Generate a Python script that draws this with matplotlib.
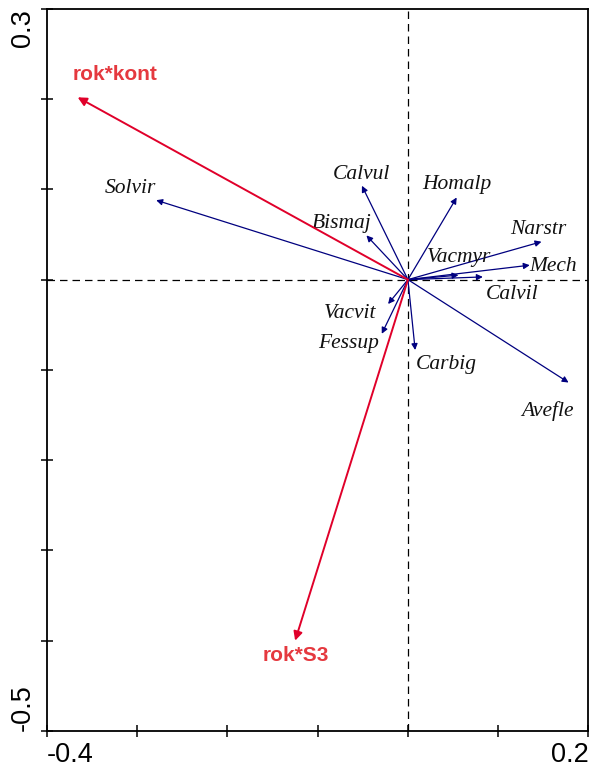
import numpy as np
import matplotlib.pyplot as plt

# species arrows (axis 1, axis 2)
species = ["Solvir", "Calvul", "Homalp", "Bismaj", "Narstr", "Mech", "Vacmyr",
           "Calvil", "Vacvit", "Fessup", "Carbig", "Avefle"]
sp_x = [-0.279, -0.051, 0.054, -0.046, 0.148, 0.135, 0.056, 0.083, -0.022, -0.029, 0.008, 0.178]
sp_y = [0.088, 0.104, 0.091, 0.049, 0.042, 0.016, 0.005, 0.003, -0.027, -0.060, -0.078, -0.114]
# label offsets from arrow tips
sp_dx = [-0.028, -0.001, 0.000, -0.027, -0.004, 0.026, 0.001, 0.032, -0.042, -0.037, 0.034, -0.023]
sp_dy = [0.0125, 0.013, 0.014, 0.013, 0.014, -0.001, 0.019, -0.020, -0.011, -0.0105, -0.016, -0.032]

# environmental (interaction) arrows
env = ["rok*kont", "rok*S3"]
env_x = [-0.366, -0.125]
env_y = [0.202, -0.400]
env_dx = [0.041, 0.001]
env_dy = [0.0255, -0.017]

blue = "#00007f"
red = "#e0002a"
red_txt = "#e5393f"

fig = plt.figure(figsize=(5.89, 7.71), dpi=100)
ax = fig.add_axes([0.0798, 0.052, 0.9192, 0.9365])
ax.set_xlim(-0.4, 0.2)
ax.set_ylim(-0.5, 0.3)

ax.axhline(0, color="black", lw=0.9, ls=(0, (6, 4)), zorder=1)
ax.axvline(0, color="black", lw=0.9, ls=(0, (6, 4)), zorder=1)

for name, x, y, dx, dy in zip(species, sp_x, sp_y, sp_dx, sp_dy):
    ax.annotate("", xy=(x, y), xytext=(0, 0),
                arrowprops=dict(arrowstyle="-|>", color=blue, lw=0.9,
                                mutation_scale=9, shrinkA=0, shrinkB=0), zorder=2)
    ax.text(x + dx, y + dy, name, ha="center", va="center", fontsize=15.5,
            family="Liberation Serif", style="italic", color="#111111")

for name, x, y, dx, dy in zip(env, env_x, env_y, env_dx, env_dy):
    ax.annotate("", xy=(x, y), xytext=(0, 0),
                arrowprops=dict(arrowstyle="-|>", color=red, lw=1.4,
                                mutation_scale=13, shrinkA=0, shrinkB=0), zorder=3)
    ax.text(x + dx, y + dy, name, ha="center", va="center", fontsize=15,
            family="Liberation Sans", weight="bold", color=red_txt)

ax.set_xticks(np.arange(-0.4, 0.21, 0.1))
ax.set_yticks(np.arange(-0.5, 0.31, 0.1))
ax.set_xticklabels(["-0.4", "", "", "", "", "", "0.2"])
ax.set_yticklabels(["-0.5", "", "", "", "", "", "", "", "0.3"], rotation=90)
ax.tick_params(direction="inout", length=8, width=1.1, labelsize=19.5, pad=4)
for lab in ax.get_xticklabels() + ax.get_yticklabels():
    lab.set_family("Liberation Sans")
xl = ax.get_xticklabels()
xl[0].set_ha("left")
xl[-1].set_ha("right")
yl = ax.get_yticklabels()
yl[0].set_va("bottom")
yl[-1].set_va("top")
for s in ax.spines.values():
    s.set_linewidth(1.3)

fig.savefig("out.png", dpi=100)
